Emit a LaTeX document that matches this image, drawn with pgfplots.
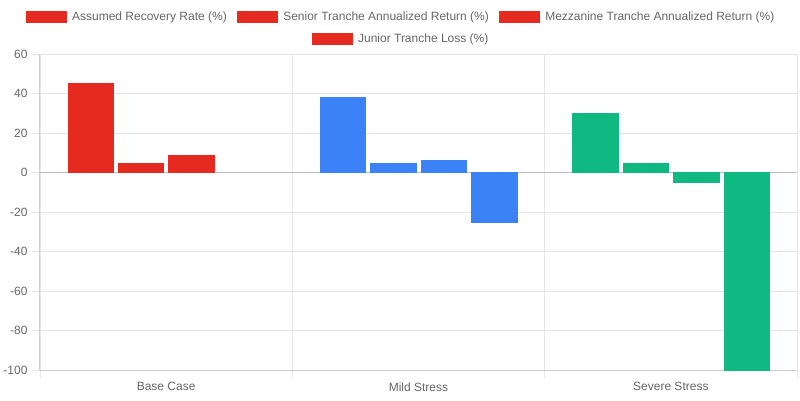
\documentclass[border=0pt]{standalone}
\usepackage{pgfplots}
\pgfplotsset{compat=1.18}
\usepackage{fontspec}
\setmainfont{Liberation Sans}
\definecolor{cred}{RGB}{229,43,31}
\definecolor{cblue}{RGB}{59,130,246}
\definecolor{cgreen}{RGB}{16,185,129}
\definecolor{gridc}{RGB}{229,229,229}
\definecolor{axisc}{RGB}{205,205,205}
\definecolor{zeroc}{RGB}{190,190,190}
\definecolor{txt}{RGB}{102,102,102}
\pgfplotsset{
  redbox/.style={legend image code/.code={\fill[cred] (0pt,-5.5pt) rectangle (40pt,5.5pt);}},
  legbox/.style={
    legend style={draw=none, fill=none, font=\fontsize{12}{14}\selectfont, text=txt,
      inner sep=0pt, outer sep=0pt,
      nodes={inner sep=0pt, text=txt},
      /tikz/every odd column/.append style={column sep=6pt},
      /tikz/every even column/.append style={column sep=10pt}},
  },
}
\begin{document}
\begin{tikzpicture}[x=1pt,y=1pt]
\useasboundingbox (0,0) rectangle (800,400);
\begin{axis}[
  at={(40pt,30pt)}, anchor=south west,
  scale only axis, width=757pt, height=316pt,
  xmin=-0.5, xmax=2.5, ymin=-100, ymax=60,
  axis x line*=bottom, axis y line*=left,
  axis line style={draw=axisc, line width=1pt, -},
  tick align=outside, major tick length=8pt,
  every tick/.style={draw=gridc, line width=0.8pt},
  ytick={-100,-80,...,60},
  ymajorgrids, xmajorgrids,
  grid style={draw=gridc, line width=0.8pt},
  xtick={-0.5,0.5,1.5,2.5}, xticklabels={},
  extra x ticks={0,1,2},
  extra x tick labels={Base Case,Mild Stress,Severe Stress},
  extra x tick style={major tick length=0pt, grid=none, xticklabel style={yshift=-9pt}},
  extra y ticks={0}, extra y tick labels={},
  extra y tick style={major tick length=0pt, major grid style={draw=zeroc, line width=1pt}},
  ticklabel style={font=\fontsize{12}{14}\selectfont, text=txt},
  yticklabel style={xshift=-1pt},
  /pgf/number format/assume math mode=true,
  legbox, legend columns=3,
  legend style={at={(0.4756,1.1171)}, anchor=center},
  bar width=45.4pt,
]
\addlegendimage{redbox}\addlegendentry{Assumed Recovery Rate (\%)}
\addlegendimage{redbox}\addlegendentry{Senior Tranche Annualized Return (\%)}
\addlegendimage{redbox}\addlegendentry{Mezzanine Tranche Annualized Return (\%)}
% Base Case
\addplot[ybar, bar shift=-75.7pt, fill=cred, draw=cred, forget plot] coordinates {(0,45)};
\addplot[ybar, bar shift=-25.2pt, fill=cred, draw=cred, forget plot] coordinates {(0,4.5)};
\addplot[ybar, bar shift=25.2pt, fill=cred, draw=cred, forget plot] coordinates {(0,9)};
\addplot[ybar, bar shift=75.7pt, fill=none, draw=none, forget plot] coordinates {(0,0)};
% Mild Stress
\addplot[ybar, bar shift=-75.7pt, fill=cblue, draw=cblue, forget plot] coordinates {(1,38)};
\addplot[ybar, bar shift=-25.2pt, fill=cblue, draw=cblue, forget plot] coordinates {(1,4.5)};
\addplot[ybar, bar shift=25.2pt, fill=cblue, draw=cblue, forget plot] coordinates {(1,6)};
\addplot[ybar, bar shift=75.7pt, fill=cblue, draw=cblue, forget plot] coordinates {(1,-25)};
% Severe Stress
\addplot[ybar, bar shift=-75.7pt, fill=cgreen, draw=cgreen, forget plot] coordinates {(2,30)};
\addplot[ybar, bar shift=-25.2pt, fill=cgreen, draw=cgreen, forget plot] coordinates {(2,4.5)};
\addplot[ybar, bar shift=25.2pt, fill=cgreen, draw=cgreen, forget plot] coordinates {(2,-5)};
\addplot[ybar, bar shift=75.7pt, fill=cgreen, draw=cgreen, forget plot] coordinates {(2,-100)};
\end{axis}
\begin{axis}[
  at={(40pt,30pt)}, anchor=south west,
  scale only axis, width=757pt, height=316pt,
  xmin=-0.5, xmax=2.5, ymin=-100, ymax=60,
  hide axis,
  legbox, legend columns=1,
  legend style={at={(0.4756,1.0475)}, anchor=center},
]
\addlegendimage{redbox}\addlegendentry{Junior Tranche Loss (\%)}
\end{axis}
\end{tikzpicture}
\end{document}
